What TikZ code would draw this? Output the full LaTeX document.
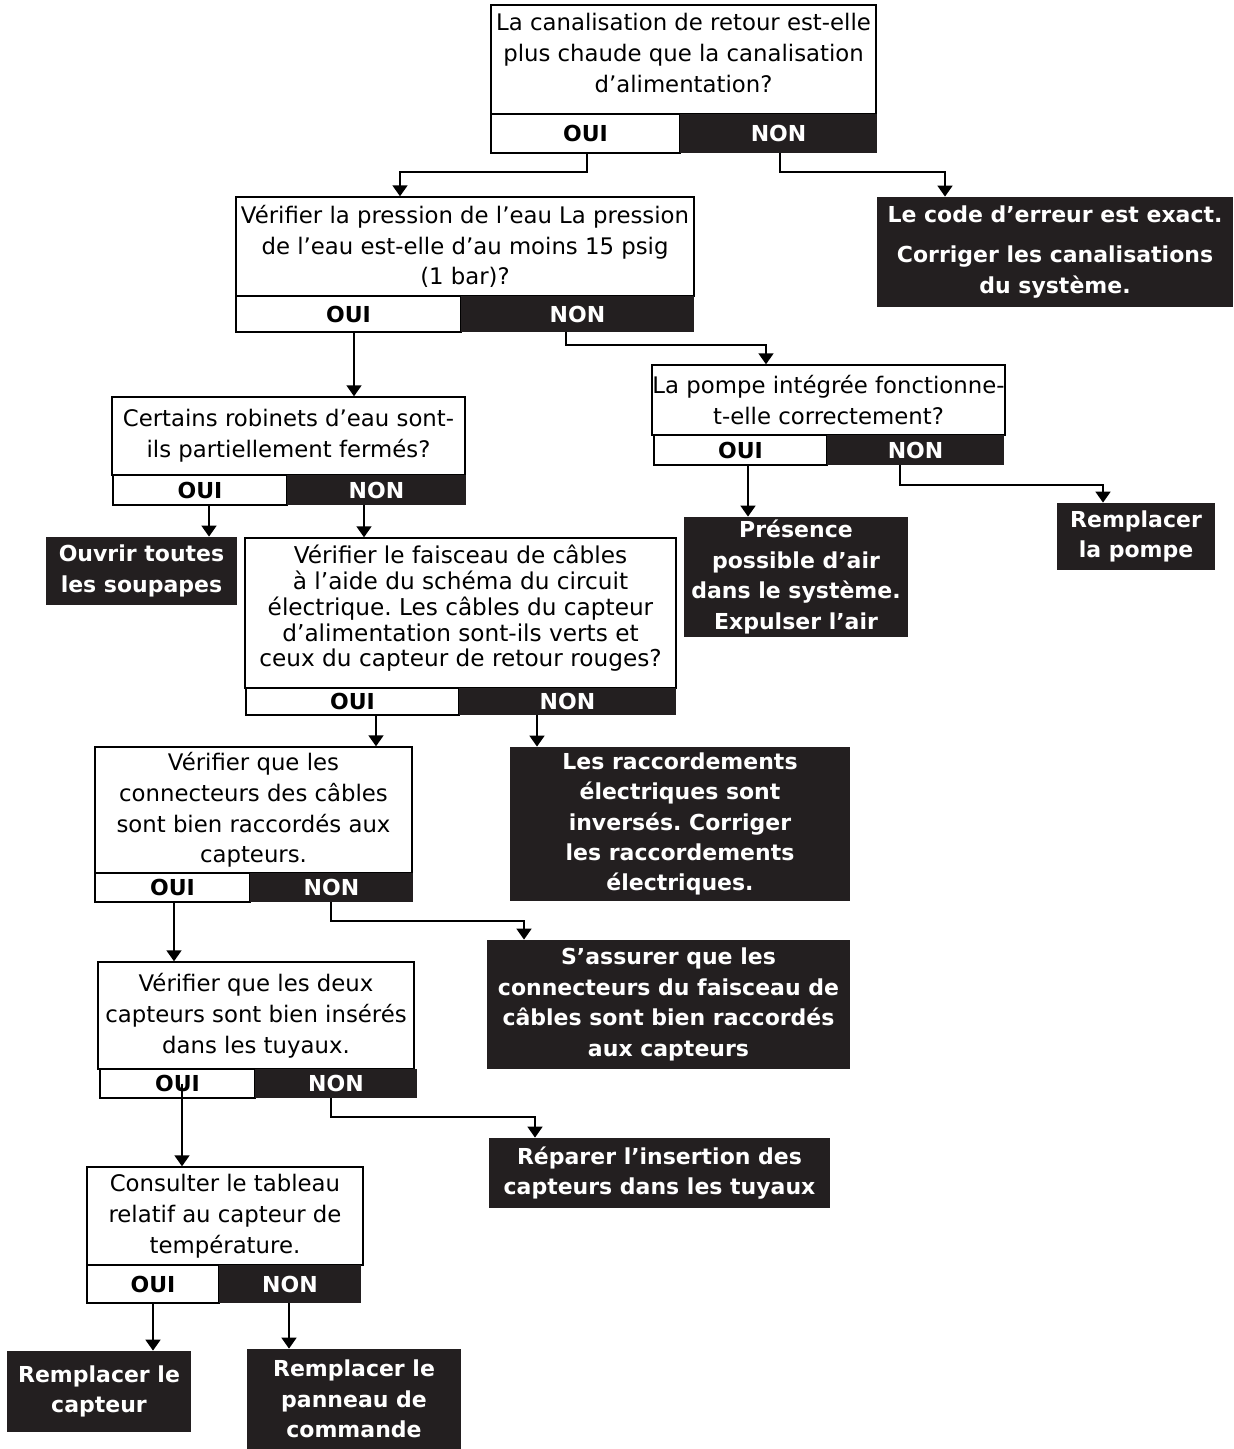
\documentclass[tikz,border=0pt]{standalone}
\usepackage{fontspec}
\setmainfont{DejaVu Sans}
\usetikzlibrary{arrows.meta}
\definecolor{boxblack}{HTML}{231F20}
\frenchspacing

\begin{document}
\begin{tikzpicture}
[
    x=0.5pt, y=-0.5pt,
    boxsize/.style 2 args={minimum width=#1*0.5pt, minimum height=#2*0.5pt},
    question/.style={draw, line width=0.7pt, fill=white, inner sep=0pt, align=center, font=\fontsize{11.4}{15.4}\selectfont},
    ouibox/.style={draw, line width=0.7pt, fill=white, inner sep=0pt, font=\bfseries\fontsize{11}{13}\selectfont},
    nonbox/.style={fill=boxblack, inner sep=0pt, text=white, font=\bfseries\fontsize{11}{13}\selectfont},
    action/.style={fill=boxblack, inner sep=0pt, text=white, align=center, font=\bfseries\fontsize{11}{15.2}\selectfont},
    flow/.style={line width=0.9pt, -{Triangle[width=7.5pt,length=5.5pt]}}
]
    \useasboundingbox (0,0) rectangle (1234,1449);

    % questions
    \node [question, boxsize={385}{109}] (chaud) at (683.5,59.5)
        {La canalisation de retour est-elle\\plus chaude que la canalisation\\d’alimentation?\\[-9pt]\mbox{}};
    \node [ouibox, boxsize={189}{39}] (chaudoui) at (585.5,133.5) {OUI};
    \node [nonbox, boxsize={197}{39}] (chaudnon) at (778.5,133.5) {NON};

    \node [question, boxsize={458}{99}] (pression) at (465,246.5)
        {Vérifier la pression de l’eau La pression\\de l’eau est-elle d’au moins 15 psig\\(1 bar)?};
    \node [ouibox, boxsize={225}{36}] (pressionoui) at (348.5,314) {OUI};
    \node [nonbox, boxsize={233}{36}] (pressionnon) at (577.5,314) {NON};

    \node [question, boxsize={353}{78}] (robinets) at (288.5,436)
        {Certains robinets d’eau sont-\\ils partiellement fermés?};
    \node [ouibox, boxsize={174}{30}] (robinetsoui) at (200,490) {OUI};
    \node [nonbox, boxsize={179}{30}] (robinetsnon) at (376.5,490) {NON};

    \node [question, boxsize={353}{70}] (pompe) at (828.5,400)
        {La pompe intégrée fonctionne-\\t-elle correctement?};
    \node [ouibox, boxsize={173}{30}] (pompeoui) at (740.5,450) {OUI};
    \node [nonbox, boxsize={177}{30}] (pompenon) at (915.5,450) {NON};

    \node [question, boxsize={431}{150}, font=\fontsize{11.6}{12.9}\selectfont] (faisceau) at (460.5,613)
        {Vérifier le faisceau de câbles\\à l’aide du schéma du circuit\\électrique. Les câbles du capteur\\d’alimentation sont-ils verts et\\ceux du capteur de retour rouges?\\[-6pt]\mbox{}};
    \node [ouibox, boxsize={213}{27}] (faisceauoui) at (352.5,701.5) {OUI};
    \node [nonbox, boxsize={217}{27}] (faisceaunon) at (567.5,701.5) {NON};

    \node [question, boxsize={317}{126}] (connect) at (253.5,810)
        {Vérifier que les\\connecteurs des câbles\\sont bien raccordés aux\\capteurs.};
    \node [ouibox, boxsize={155}{29}] (connectoui) at (172.5,887.5) {OUI};
    \node [nonbox, boxsize={163}{29}] (connectnon) at (331.5,887.5) {NON};

    \node [question, boxsize={316}{107}] (inseres) at (256,1015.5)
        {Vérifier que les deux\\capteurs sont bien insérés\\dans les tuyaux.};
    \node [ouibox, boxsize={155}{29}] (inseresoui) at (177.5,1083.5) {OUI};
    \node [nonbox, boxsize={162}{29}] (inseresnon) at (336,1083.5) {NON};

    \node [question, boxsize={276}{98}] (tableau) at (225,1216)
        {Consulter le tableau\\relatif au capteur de\\température.};
    \node [ouibox, boxsize={132}{38}] (tableauoui) at (153,1284) {OUI};
    \node [nonbox, boxsize={142}{38}] (tableaunon) at (290,1284) {NON};

    % actions
    \node [action, boxsize={356}{110}] (erreur) at (1055,252)
        {Le code d’erreur est exact.\\[5pt]Corriger les canalisations\\du système.};
    \node [action, boxsize={191}{68}] (soupapes) at (141.5,571) {Ouvrir toutes\\les soupapes};
    \node [action, boxsize={224}{120}] (air) at (796,577)
        {Présence\\possible d’air\\dans le système.\\Expulser l’air};
    \node [action, boxsize={158}{67}] (rempompe) at (1136,536.5) {Remplacer\\la pompe};
    \node [action, boxsize={340}{154}] (inverses) at (680,824)
        {Les raccordements\\électriques sont\\inversés. Corriger\\les raccordements\\électriques.};
    \node [action, boxsize={363}{129}] (assurer) at (668.5,1004.5)
        {S’assurer que les\\connecteurs du faisceau de\\câbles sont bien raccordés\\aux capteurs};
    \node [action, boxsize={341}{70}] (reparer) at (659.5,1173)
        {Réparer l’insertion des\\capteurs dans les tuyaux};
    \node [action, boxsize={184}{81}] (remcapteur) at (99,1391.5) {Remplacer le\\capteur};
    \node [action, boxsize={214}{100}] (rempanneau) at (354,1399) {Remplacer le\\panneau de\\commande};

    % connectors
    \draw [flow] (chaudoui.south -| 587,0) |- (400,172) -- (pression.north -| 400,0);
    \draw [flow] (chaudnon.south -| 780,0) |- (945,172) -- (erreur.north -| 945,0);
    \draw [flow] (pressionoui.south -| 354,0) -- (robinets.north -| 354,0);
    \draw [flow] (pressionnon.south -| 566,0) |- (766,345) -- (pompe.north -| 766,0);
    \draw [flow] (robinetsoui.south -| 209,0) -- (soupapes.north -| 209,0);
    \draw [flow] (robinetsnon.south -| 364,0) -- (faisceau.north -| 364,0);
    \draw [flow] (pompeoui.south -| 748,0) -- (air.north -| 748,0);
    \draw [flow] (pompenon.south -| 900,0) |- (1103,485) -- (rempompe.north -| 1103,0);
    \draw [flow] (faisceauoui.south -| 376,0) -- (connect.north -| 376,0);
    \draw [flow] (faisceaunon.south -| 537,0) -- (inverses.north -| 537,0);
    \draw [flow] (connectoui.south -| 174,0) -- (inseres.north -| 174,0);
    \draw [flow] (connectnon.south -| 331,0) |- (524,921) -- (assurer.north -| 524,0);
    \draw [flow] (inseresoui.center -| 182,0) -- (tableau.north -| 182,0);
    \draw [flow] (inseresnon.south -| 331,0) |- (535,1117) -- (reparer.north -| 535,0);
    \draw [flow] (tableauoui.south -| 153,0) -- (remcapteur.north -| 153,0);
    \draw [flow] (tableaunon.south -| 289,0) -- (rempanneau.north -| 289,0);
\end{tikzpicture}
\end{document}
